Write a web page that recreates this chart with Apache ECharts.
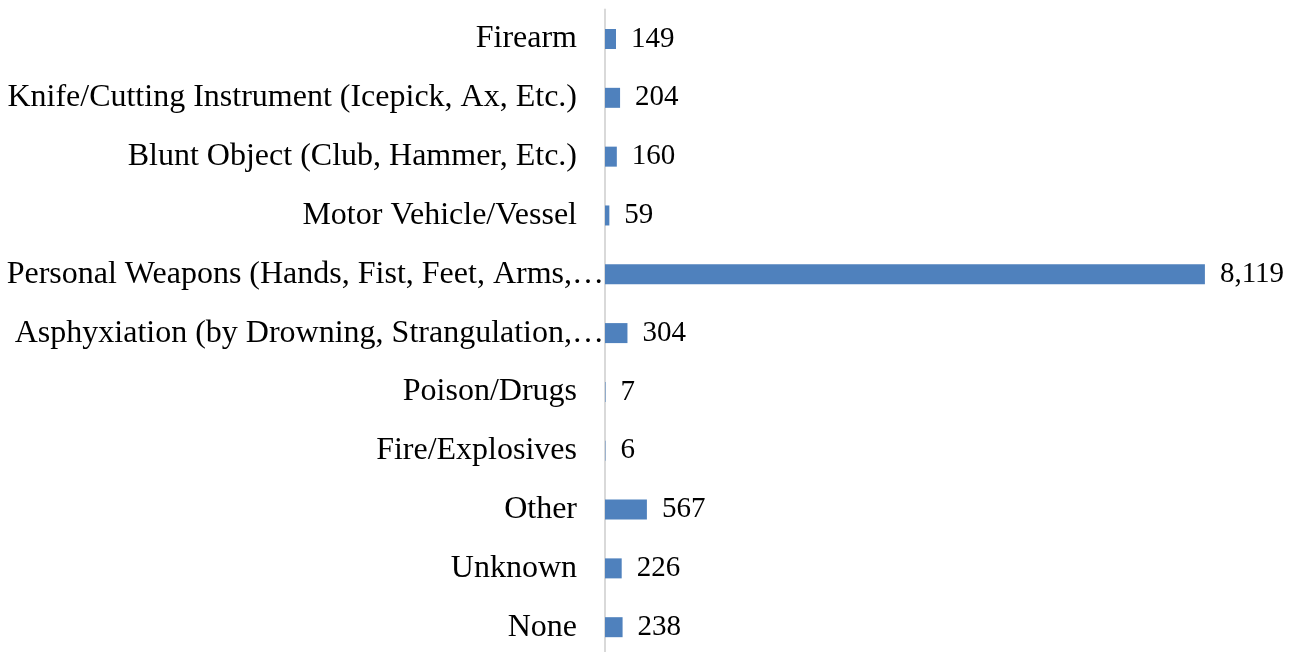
<!DOCTYPE html>
<html>
<head>
<meta charset="utf-8">
<script src="https://cdn.jsdelivr.net/npm/echarts@6/dist/echarts.min.js"></script>
<style>
  html, body { margin: 0; padding: 0; background: #fff; overflow: hidden; }
  /* a bit taller than the window: the axis runs off the bottom edge like the original */
  #chart { width: 1302px; height: 660px; }
</style>
</head>
<body>
<div id="chart"></div>
<script>
// categories as shown on the axis (top to bottom)
const categories = [
  'Firearm',
  'Knife/Cutting Instrument (Icepick, Ax, Etc.)',
  'Blunt Object (Club, Hammer, Etc.)',
  'Motor Vehicle/Vessel',
  'Personal Weapons (Hands, Fist, Feet, Arms,\u2026',
  'Asphyxiation (by Drowning, Strangulation,\u2026',
  'Poison/Drugs',
  'Fire/Explosives',
  'Other',
  'Unknown',
  'None'
];
const counts = [149, 204, 160, 59, 8119, 304, 7, 6, 567, 226, 238];

const font = '"Liberation Serif", "Times New Roman", serif';

let myChart = echarts.init(document.getElementById('chart'));
myChart.setOption({
  backgroundColor: '#fff',
  animation: false,
  grid: {
    left: 605,
    right: 32,
    top: 9.6,
    bottom: 3.4
  },
  xAxis: {
    type: 'value',
    min: 0,
    max: 9000,
    show: false
  },
  yAxis: {
    type: 'category',
    inverse: true,
    data: categories,
    axisTick: { show: false },
    axisLine: {
      lineStyle: { color: '#d9d9d9', width: 2 }
    },
    axisLabel: {
      margin: 0,
      color: '#000',
      fontFamily: font,
      fontSize: 32,
      // truncated names run up to the axis, the rest keep a gap
      formatter: function (v) {
        return v.indexOf('\u2026') >= 0 ? '{l|' + v + '}' : '{s|' + v + '}';
      },
      rich: {
        s: { fontFamily: font, fontSize: 32, color: '#000', padding: [0, 28, 0, 0] },
        l: { fontFamily: font, fontSize: 32, color: '#000', padding: [0, 1, 0, 0] }
      }
    }
  },
  series: [
    {
      type: 'bar',
      data: counts,
      barWidth: 20,
      itemStyle: { color: '#4f81bd' },
      label: {
        show: true,
        position: 'right',
        distance: 15,
        color: '#000',
        fontFamily: font,
        fontSize: 29,
        formatter: function (p) {
          return p.value.toLocaleString('en-US');
        }
      }
    }
  ]
});
</script>
</body>
</html>
